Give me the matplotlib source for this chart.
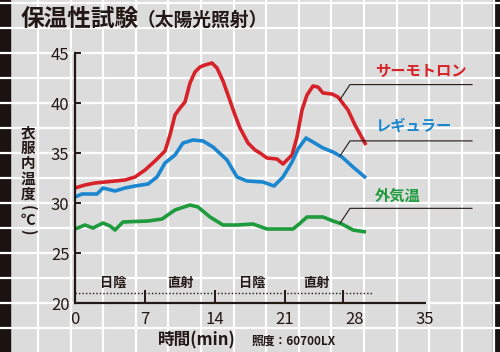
import numpy as np
import matplotlib
matplotlib.use("Agg")
import matplotlib.pyplot as plt

plt.rcParams['font.family'] = ['Noto Sans CJK JP', 'DejaVu Sans']

# series (time in min, temperature in deg C)
thermo_t = [0, 1, 2, 3, 4, 5, 6, 7, 8, 9, 9.5, 10, 10.5, 11, 11.5, 12, 12.5, 13, 13.7,
            14.2, 14.8, 15.3, 16, 16.5, 17.3, 18, 18.5, 19.2, 20.2, 20.8, 21.7, 22.2,
            22.7, 23.2, 23.8, 24.3, 24.8, 25.7, 26.3, 27.3, 28.0, 29.1]
thermo_v = [31.5, 31.8, 32.0, 32.1, 32.2, 32.3, 32.6, 33.3, 34.2, 35.2, 36.8, 38.8, 39.5,
            40.1, 42.0, 43.1, 43.6, 43.8, 44.0, 43.5, 42.2, 40.8, 38.8, 37.5, 36.0, 35.3,
            35.0, 34.5, 34.4, 33.9, 34.8, 36.6, 39.3, 40.8, 41.7, 41.6, 41.0, 40.9, 40.6,
            39.3, 37.8, 35.8]

regular_t = [0, 0.7, 2.2, 2.8, 4.0, 5.0, 6.0, 7.3, 8.2, 9.0, 10.0, 10.8, 11.8, 12.8, 13.8,
             15.2, 16.2, 17.2, 18.8, 19.9, 20.8, 21.7, 22.3, 23.1, 23.8, 24.8, 25.8, 26.7,
             27.8, 29.1]
regular_v = [30.6, 30.9, 30.9, 31.5, 31.2, 31.5, 31.7, 31.9, 32.6, 34.0, 34.8, 36.0, 36.3,
             36.2, 35.6, 34.3, 32.6, 32.2, 32.1, 31.7, 32.6, 34.1, 35.4, 36.5, 36.1, 35.5,
             35.1, 34.6, 33.6, 32.5]

outside_t = [0, 1.0, 1.8, 2.8, 3.5, 4.0, 4.8, 7.3, 8.7, 10.0, 11.5, 12.3, 13.5, 14.8, 16.2,
             17.8, 19.2, 21.8, 22.3, 23.2, 24.8, 25.8, 26.7, 27.8, 29.1]
outside_v = [27.4, 27.8, 27.5, 28.0, 27.7, 27.3, 28.1, 28.2, 28.4, 29.3, 29.8, 29.6, 28.6,
             27.8, 27.8, 27.9, 27.4, 27.4, 27.8, 28.6, 28.6, 28.2, 27.9, 27.3, 27.1]

series_names = ['サーモトロン', 'レギュラー', '外気温']
colors = ['#d7222a', '#1b87d0', '#1e9b3c']

phase_edges = [7, 14, 21, 26.8]
phase_names = ['日陰', '直射', '日陰', '直射']
phase_centers = [3.8, 10.5, 17.7, 24.2]
xticks = [0, 7, 14, 21, 28, 35]
yticks = [20, 25, 30, 35, 40, 45]

ink = '#231815'

fig = plt.figure(figsize=(5, 3.52), dpi=100)
fig.patch.set_facecolor('#dcdcdc')

# background: white grid pattern over the whole sheet, black bars at the sides
bg = fig.add_axes([0, 0, 1, 1])
bg.set_xlim(0, 500)
bg.set_ylim(352, 0)
bg.axis('off')
for gx in np.arange(38, 500, 32.6):
    bg.axvline(gx, color='white', lw=1.6)
for gy in np.arange(3, 352, 25):
    bg.axhline(gy, color='white', lw=1.6)
bg.axvspan(0, 10, color='#1a1311')
bg.axvspan(493, 500, color='#1a1311')

# title
bg.text(21, 19, '保温性試験', fontsize=17, fontweight='bold', color=ink, va='center', ha='left')
bg.text(137, 20, '（太陽光照射）', fontsize=13.5, fontweight='bold', color=ink, va='center', ha='left')

# vertical y label, one glyph per row
for i, ch in enumerate('衣服内温度'):
    bg.text(28, 132 + 15.5 * i, ch, fontsize=10.5, fontweight='bold', color=ink,
            ha='center', va='center')
bg.text(28, 208, '(', fontsize=10.5, fontweight='bold', color=ink, rotation=-90,
        ha='center', va='center')
bg.text(28, 220, '℃', fontsize=10.5, fontweight='bold', color=ink, ha='center', va='center')
bg.text(28, 232, ')', fontsize=10.5, fontweight='bold', color=ink, rotation=-90,
        ha='center', va='center')

# x label
bg.text(197, 340, '時間(min)', fontsize=12, fontweight='bold', color=ink, ha='center', va='center')
bg.text(252, 341, '照度：60700LX', fontsize=8.5, fontweight='bold', color=ink, ha='left', va='center')

ax = fig.add_axes([75 / 500, 49 / 352, 350 / 500, 250 / 352])
ax.patch.set_alpha(0)
ax.set_xlim(0, 35)
ax.set_ylim(20, 45)
for s in ['top', 'right']:
    ax.spines[s].set_visible(False)
for s in ['left', 'bottom']:
    ax.spines[s].set_linewidth(1.6)
    ax.spines[s].set_color(ink)
ax.set_xticks(xticks)
ax.set_yticks(yticks)
ax.tick_params(axis='x', length=0, pad=6, labelsize=12, labelcolor=ink)
ax.tick_params(axis='y', direction='in', length=4, width=1.4, color=ink, pad=4,
               labelsize=12, labelcolor=ink)

# sun / shade phases
ax.plot([0, 29.7], [21, 21], color=ink, lw=1, ls=(0, (1, 1.5)))
ax.vlines(phase_edges, 20, 21.3, color=ink, lw=1.4)
for xc, nm in zip(phase_centers, phase_names):
    ax.text(xc, 22.0, nm, fontsize=9.5, fontweight='bold', color=ink, ha='center', va='center')

data = [(thermo_t, thermo_v), (regular_t, regular_v), (outside_t, outside_v)]
label_dy = [1.4, 1.5, 1.3]
for (t, v), c, nm, dy in zip(data, colors, series_names, label_dy):
    ax.plot(t, v, color=c, lw=2.6, solid_capstyle='butt', solid_joinstyle='round')
    # leader line from the curve out to the label
    y0 = np.interp(26.5, t, v)
    ax.plot([26.5, 27.5, 39.7], [y0, y0 + 1.5, y0 + 1.5], color=ink, lw=0.8, clip_on=False)
    ax.text(30, y0 + 1.5 + dy, nm, fontsize=11, fontweight='bold', color=c,
            ha='left', va='center', clip_on=False)

fig.savefig('out.png', dpi=100)
